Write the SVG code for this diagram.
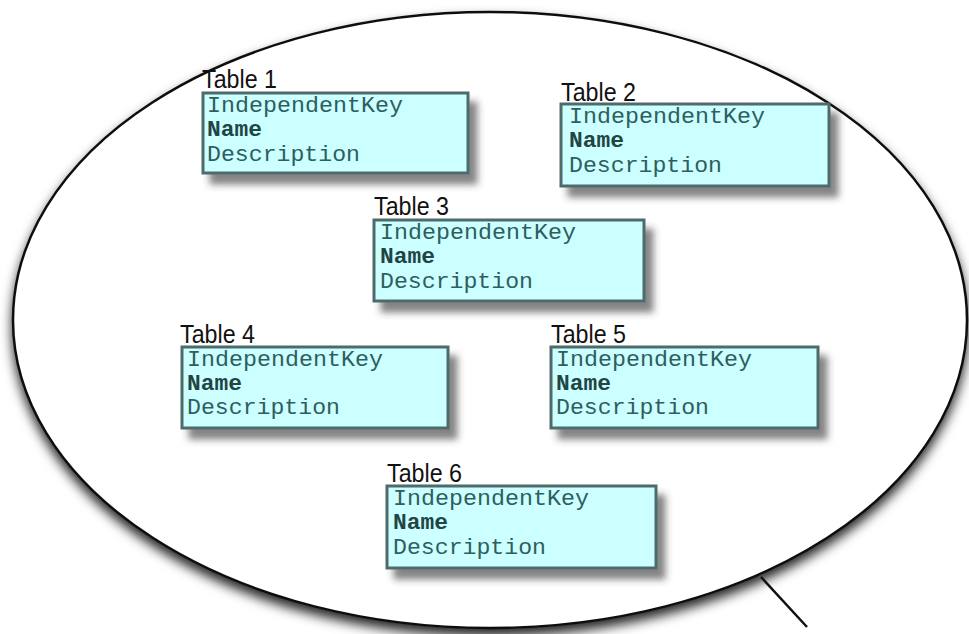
<svg xmlns="http://www.w3.org/2000/svg" width="969" height="634" viewBox="0 0 969 634">
<defs>
<filter id="oshadow" x="-10%" y="-10%" width="120%" height="125%">
<feGaussianBlur in="SourceAlpha" stdDeviation="6"/>
<feOffset dx="0" dy="7" result="b"/>
<feFlood flood-color="#000" flood-opacity="0.85"/>
<feComposite in2="b" operator="in"/>
<feMerge><feMergeNode/><feMergeNode in="SourceGraphic"/></feMerge>
</filter>
<filter id="bshadow" x="-10%" y="-20%" width="130%" height="150%">
<feGaussianBlur in="SourceAlpha" stdDeviation="3.5"/>
<feOffset dx="8" dy="10" result="b"/>
<feFlood flood-color="#333" flood-opacity="0.6"/>
<feComposite in2="b" operator="in"/>
<feMerge><feMergeNode/><feMergeNode in="SourceGraphic"/></feMerge>
</filter>
<style>
.box{fill:#ccffff;stroke:#4f6b6b;stroke-width:3;filter:url(#bshadow)}
.lbl{font-family:"Liberation Sans",Arial,sans-serif;font-size:26px;fill:#111}
.fld{font-family:"Liberation Mono","Courier New",monospace;font-size:22px;fill:#2e5e5e}
.nm{fill:#1f4545;font-weight:bold}
</style>
</defs>
<rect width="969" height="634" fill="#fff"/>
<ellipse cx="490" cy="320" rx="477" ry="308" fill="#fff" stroke="#111" stroke-width="2.5" filter="url(#oshadow)"/>
<g id="connectors">
<line x1="761" y1="577" x2="807" y2="627" stroke="#111" stroke-width="2.5"/>
</g>
<g id="table1">
<text class="lbl" x="202" y="88" textLength="75" lengthAdjust="spacingAndGlyphs">Table 1</text>
<rect class="box" x="203" y="93" width="265" height="80"/>
<text class="fld" x="207" y="112" textLength="196" lengthAdjust="spacingAndGlyphs">IndependentKey</text>
<text class="fld nm" x="207" y="136" textLength="55" lengthAdjust="spacingAndGlyphs">Name</text>
<text class="fld" x="207" y="161" textLength="153" lengthAdjust="spacingAndGlyphs">Description</text>
</g>
<g id="table2">
<text class="lbl" x="561" y="101" textLength="75" lengthAdjust="spacingAndGlyphs">Table 2</text>
<rect class="box" x="561" y="104" width="268" height="82"/>
<text class="fld" x="569" y="123" textLength="196" lengthAdjust="spacingAndGlyphs">IndependentKey</text>
<text class="fld nm" x="569" y="147" textLength="55" lengthAdjust="spacingAndGlyphs">Name</text>
<text class="fld" x="569" y="172" textLength="153" lengthAdjust="spacingAndGlyphs">Description</text>
</g>
<g id="table3">
<text class="lbl" x="374" y="215" textLength="75" lengthAdjust="spacingAndGlyphs">Table 3</text>
<rect class="box" x="374" y="220" width="270" height="81"/>
<text class="fld" x="380" y="239" textLength="196" lengthAdjust="spacingAndGlyphs">IndependentKey</text>
<text class="fld nm" x="380" y="263" textLength="55" lengthAdjust="spacingAndGlyphs">Name</text>
<text class="fld" x="380" y="288" textLength="153" lengthAdjust="spacingAndGlyphs">Description</text>
</g>
<g id="table4">
<text class="lbl" x="180" y="343" textLength="75" lengthAdjust="spacingAndGlyphs">Table 4</text>
<rect class="box" x="182" y="347" width="266" height="81"/>
<text class="fld" x="187" y="366" textLength="196" lengthAdjust="spacingAndGlyphs">IndependentKey</text>
<text class="fld nm" x="187" y="390" textLength="55" lengthAdjust="spacingAndGlyphs">Name</text>
<text class="fld" x="187" y="414" textLength="153" lengthAdjust="spacingAndGlyphs">Description</text>
</g>
<g id="table5">
<text class="lbl" x="551" y="343" textLength="75" lengthAdjust="spacingAndGlyphs">Table 5</text>
<rect class="box" x="551" y="347" width="267" height="81"/>
<text class="fld" x="556" y="366" textLength="196" lengthAdjust="spacingAndGlyphs">IndependentKey</text>
<text class="fld nm" x="556" y="390" textLength="55" lengthAdjust="spacingAndGlyphs">Name</text>
<text class="fld" x="556" y="414" textLength="153" lengthAdjust="spacingAndGlyphs">Description</text>
</g>
<g id="table6">
<text class="lbl" x="387" y="482" textLength="75" lengthAdjust="spacingAndGlyphs">Table 6</text>
<rect class="box" x="387" y="486" width="269" height="82"/>
<text class="fld" x="393" y="505" textLength="196" lengthAdjust="spacingAndGlyphs">IndependentKey</text>
<text class="fld nm" x="393" y="529" textLength="55" lengthAdjust="spacingAndGlyphs">Name</text>
<text class="fld" x="393" y="554" textLength="153" lengthAdjust="spacingAndGlyphs">Description</text>
</g>
</svg>
